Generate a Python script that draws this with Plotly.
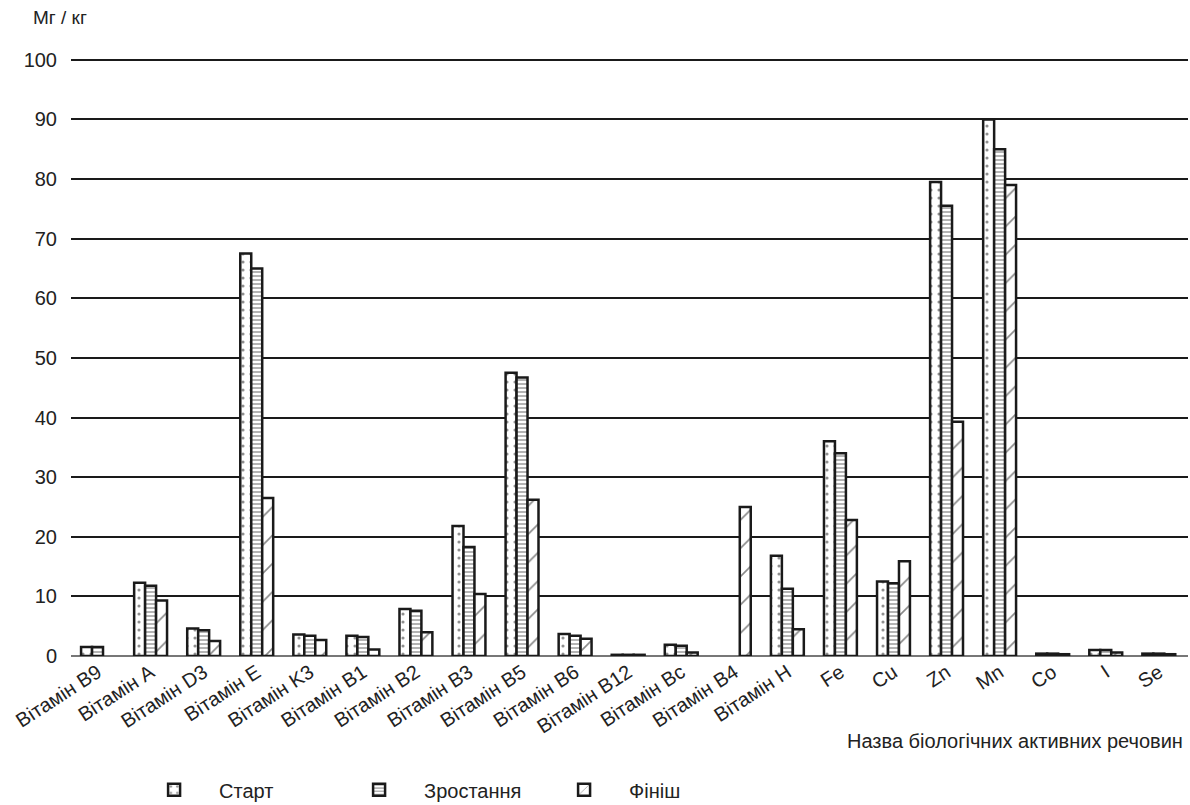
import plotly.graph_objects as go

categories = ["Вітамін B9", "Вітамін A", "Вітамін D3", "Вітамін E", "Вітамін K3",
              "Вітамін B1", "Вітамін B2", "Вітамін B3", "Вітамін B5", "Вітамін B6",
              "Вітамін B12", "Вітамін Bc", "Вітамін B4", "Вітамін H",
              "Fe", "Cu", "Zn", "Mn", "Co", "I", "Se"]

start = [1.5, 12.3, 4.6, 67.5, 3.6, 3.4, 7.9, 21.8, 47.5, 3.7,
         0.2, 1.9, None, 16.8, 36.0, 12.5, 79.5, 90.0, 0.4, 1.0, 0.4]
growth = [1.5, 11.8, 4.3, 65.0, 3.4, 3.2, 7.6, 18.3, 46.7, 3.4,
          0.2, 1.7, None, 11.3, 34.0, 12.2, 75.5, 85.0, 0.4, 1.0, 0.4]
finish = [None, 9.3, 2.5, 26.5, 2.7, 1.1, 4.0, 10.4, 26.2, 2.9,
          0.2, 0.6, 25.0, 4.5, 22.8, 15.9, 39.3, 79.0, 0.3, 0.6, 0.3]

series = [
    ("Старт", start, dict(shape=".", size=8, solidity=0.12, fgcolor="#222")),
    ("Зростання", growth, dict(shape="-", size=4, solidity=0.4, fgcolor="#444")),
    ("Фініш", finish, dict(shape="/", size=20, solidity=0.08, fgcolor="#111")),
]

FONT = "Liberation Sans, Arial, sans-serif"

fig = go.Figure()
for name, vals, pat in series:
    fig.add_trace(go.Bar(
        x=categories, y=vals, name=name,
        marker=dict(color="white", line=dict(color="#1a1a1a", width=2.5),
                    pattern=dict(fillmode="overlay", bgcolor="white", **pat)),
    ))

fig.update_layout(
    width=1190, height=805,
    margin=dict(l=71, r=2, t=58, b=149),
    plot_bgcolor="white", paper_bgcolor="white",
    barmode="group", bargap=0.38, bargroupgap=0,
    font=dict(family=FONT, size=20, color="#222"),
    showlegend=True,
    legend=dict(orientation="h", x=0.052, y=0.019, yref="container",
                xanchor="left", yanchor="middle",
                itemwidth=80, entrywidth=110, font=dict(size=20), traceorder="normal"),
    annotations=[
        dict(text="Мг / кг", x=-0.01, y=1.067, xref="paper", yref="paper",
             xanchor="center", yanchor="middle", showarrow=False, font=dict(size=19)),
        dict(text="Назва біологічних активних речовин", x=0.997, y=-0.142,
             xref="paper", yref="paper", xanchor="right", yanchor="middle",
             showarrow=False, font=dict(size=20)),
    ],
)

fig.update_xaxes(range=[-0.5, 20.55], tickangle=-33, showgrid=False, automargin=False,
                 showline=False, ticks="", tickfont=dict(size=20))
fig.update_yaxes(range=[0, 100.3], dtick=10, showgrid=True, gridcolor="#1a1a1a",
                 gridwidth=1.5, zeroline=True, zerolinecolor="#777", zerolinewidth=2,
                 showline=False, ticks="outside", ticklen=9, tickcolor="white",
                 automargin=False, tickfont=dict(size=20))

fig.write_html("out.html", config={"displayModeBar": False},
               post_script="document.body.style.margin='0';")
